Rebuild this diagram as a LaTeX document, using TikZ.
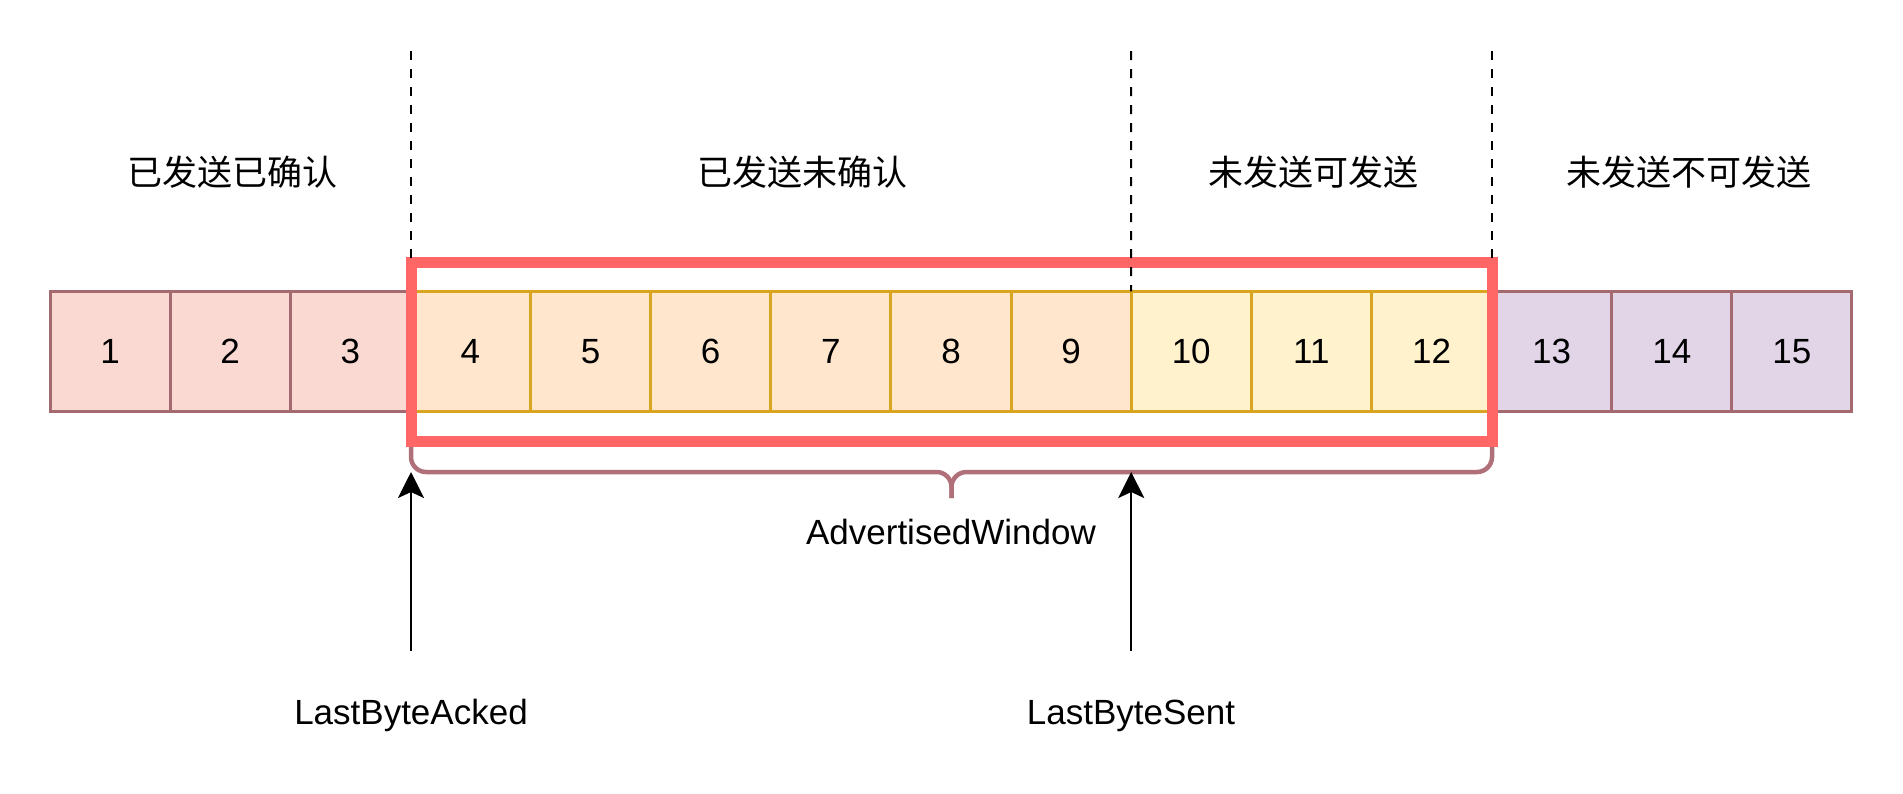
\documentclass[tikz,border=0pt]{standalone}
\usepackage{fontspec}
\setmainfont{Liberation Sans}
\newfontfamily\cjk{Noto Sans CJK SC}
\usetikzlibrary{arrows.meta}
\definecolor{mauve}{HTML}{A56A70}
\definecolor{gold}{HTML}{D9A521}
\definecolor{pinkfill}{HTML}{FAD9D3}
\definecolor{peachfill}{HTML}{FFE6CC}
\definecolor{yellowfill}{HTML}{FFF2CC}
\definecolor{purplefill}{HTML}{E1D5E7}
\definecolor{winred}{HTML}{FF6666}
\definecolor{bracecol}{HTML}{B0707A}
\tikzset{
  txt/.style={font=\fontsize{35}{42}\selectfont, inner sep=0pt, outer sep=0pt},
  cell/.style={txt, draw, line width=3pt, minimum width=120.13pt, minimum height=120.5pt},
  cellA/.style={cell, draw=mauve, fill=pinkfill},
  cellB/.style={cell, draw=gold, fill=peachfill},
  cellC/.style={cell, draw=gold, fill=yellowfill},
  cellD/.style={cell, draw=mauve, fill=purplefill},
  winbox/.style={draw=winred, line width=11pt, minimum width=1081pt, minimum height=179pt, inner sep=0pt, outer sep=0pt},
  sep/.style={black, line width=2pt, dash pattern=on 9pt off 9pt},
  ptr/.style={black, line width=2.5pt, -{Stealth[length=26pt,width=26pt,inset=6pt]}},
  bracestyle/.style={draw=bracecol, line width=4.5pt, rounded corners=15pt},
}
\begin{document}
\begin{tikzpicture}[x=1pt,y=-1pt]
\fill[white] (0,0) rectangle (1903,793);
\useasboundingbox (0,0) rectangle (1903,793);
% cells
\foreach \i in {1,2,3} \node[cellA] (c\i) at ({50+120.13*(\i-0.5)},351.5) {\i};
\foreach \i in {4,...,9} \node[cellB] (c\i) at ({50+120.13*(\i-0.5)},351.5) {\i};
\foreach \i in {10,11,12} \node[cellC] (c\i) at ({50+120.13*(\i-0.5)},351.5) {\i};
\foreach \i in {13,14,15} \node[cellD] (c\i) at ({50+120.13*(\i-0.5)},351.5) {\i};
% section labels
\node[txt] (t1) at (232,172) {\cjk 已发送已确认};
\node[txt] (t2) at (802,172) {\cjk 已发送未确认};
\node[txt] (t3) at (1313,172) {\cjk 未发送可发送};
\node[txt] (t4) at (1689,172) {\cjk 未发送不可发送};
% dashed separators
\coordinate (d1) at (411,51);
\coordinate (d2) at (1131.2,51);
\coordinate (d3) at (1492,51);
\node[winbox] (win) at (951.5,351.5) {};
\draw[sep] (d1) -- (win.north west);
\draw[sep] (d3) -- (win.north east);
\draw[sep] (d2) -- (c10.north west);
% brace
\draw[bracestyle] (411,447) -- (411,472) -- (951.5,472) -- (951.5,498);
\draw[bracestyle] (1492,447) -- (1492,472) -- (951.5,472) -- (951.5,498);
\node[txt, anchor=base] (adv) at (951,544) {AdvertisedWindow};
% pointers
\node[txt, anchor=base] (lba) at (411,724) {LastByteAcked};
\node[txt, anchor=base] (lbs) at (1131,724) {LastByteSent};
\coordinate (a1s) at (411,651);
\coordinate (a1e) at (411,472);
\coordinate (a2s) at (1131.2,651);
\coordinate (a2e) at (1131.2,472);
\draw[ptr] (a1s) -- (a1e);
\draw[ptr] (a2s) -- (a2e);
\end{tikzpicture}
\end{document}
